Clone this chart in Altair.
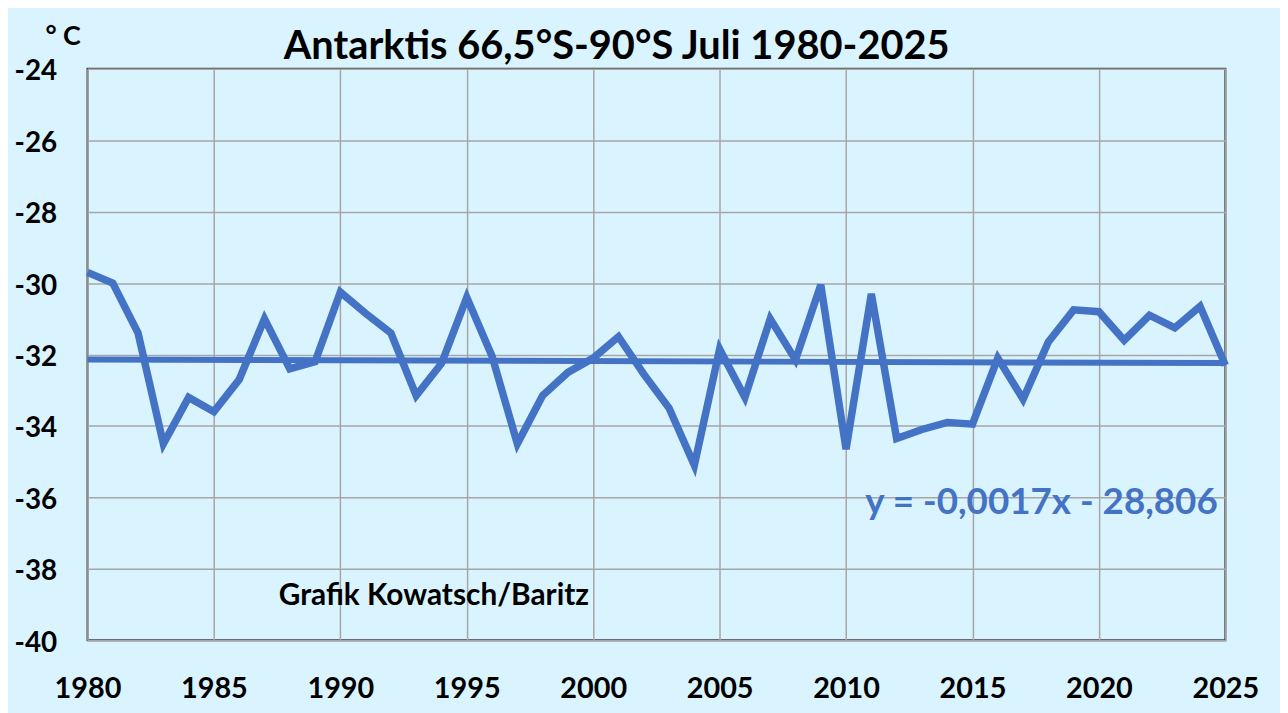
import altair as alt
import pandas as pd

years = list(range(1980, 2026))
temps = [-29.7, -30.0, -31.4, -34.5, -33.2, -33.6, -32.7, -31.0, -32.4, -32.2,
         -30.25, -30.85, -31.4, -33.15, -32.25, -30.4, -32.05, -34.5, -33.15, -32.5,
         -32.1, -31.5, -32.55, -33.5, -35.1, -31.85, -33.2, -31.0, -32.15, -30.05,
         -34.65, -30.3, -34.35, -34.1, -33.9, -33.95, -32.1, -33.25, -31.65, -30.75,
         -30.8, -31.6, -30.9, -31.25, -30.65, -32.3]
x_ticks = list(range(1980, 2026, 5))
y_ticks = list(range(-40, -23, 2))

title_text = ["Antarktis 66,5°S-90°S Juli 1980-2025"]
unit_text = ["° C"]
trend_label = ["y = -0,0017x - 28,806"]
trend_label_pos = [(2024.7, -36.47)]
credit_label = ["Grafik Kowatsch/Baritz"]
credit_label_pos = [(1993.7, -39.0)]

BLUE = "#4472C4"
BG = "#D9F4FF"
FONT = "Lato"

df = pd.DataFrame({"year": years, "temp": temps})

x_enc = alt.X("year:Q",
              scale=alt.Scale(domain=[1980, 2025], nice=False, zero=False),
              axis=alt.Axis(values=x_ticks, format="d", title=None, tickSize=0, domain=False,
                            grid=True, gridColor="#A6A6A6", gridWidth=1.5,
                            labelFont=FONT, labelFontSize=29, labelFontWeight="bold",
                            labelColor="black", labelPadding=35, labelFlush=False,
                            labelOverlap=False, labelBound=False))
y_enc = alt.Y("temp:Q",
              scale=alt.Scale(domain=[-40, -24], nice=False, zero=False),
              axis=alt.Axis(values=y_ticks, title=None, tickSize=0, domain=False,
                            grid=True, gridColor="#A6A6A6", gridWidth=1.5,
                            labelExpr="'' + datum.value",
                            labelFont=FONT, labelFontSize=28, labelFontWeight="bold",
                            labelColor="black", labelPadding=31, labelAlign="right",
                            labelOffset=3,
                            labelFlush=False, labelOverlap=False, labelBound=False))

base = alt.Chart(df)

trend = base.transform_regression("year", "temp", method="linear", extent=[1980, 2025]).mark_line(
    color=BLUE, strokeWidth=6).encode(x=x_enc, y=y_enc)

line = base.mark_line(color=BLUE, strokeWidth=7.5, strokeJoin="miter", strokeMiterLimit=4).encode(
    x=x_enc, y=y_enc)

trend_df = pd.DataFrame({"label": trend_label,
                         "x": [p[0] for p in trend_label_pos],
                         "y": [p[1] for p in trend_label_pos]})
trend_text = alt.Chart(trend_df).mark_text(
    font=FONT, fontSize=37, fontWeight="bold", color=BLUE, align="right", baseline="alphabetic"
).encode(x=alt.X("x:Q"), y=alt.Y("y:Q"), text="label:N")

credit_df = pd.DataFrame({"label": credit_label,
                          "x": [p[0] for p in credit_label_pos],
                          "y": [p[1] for p in credit_label_pos]})
credit_text = alt.Chart(credit_df).mark_text(
    font=FONT, fontSize=30, fontWeight="bold", color="black", align="center", baseline="alphabetic"
).encode(x=alt.X("x:Q"), y=alt.Y("y:Q"), text="label:N")

unit = alt.Chart(pd.DataFrame({"label": unit_text})).mark_text(
    font=FONT, fontSize=27, fontWeight="bold", color="black", align="center", baseline="middle"
).encode(x=alt.value(-24.5), y=alt.value(-32), text="label:N")

title = alt.Chart(pd.DataFrame({"label": title_text})).mark_text(
    font=FONT, fontSize=40, fontWeight="bold", color="black", align="center", baseline="alphabetic"
).encode(x=alt.value(532.5), y=alt.value(-10), text="label:N")

chart = alt.layer(trend, line, trend_text, credit_text, unit, title).properties(
    width=1145, height=575,
    autosize=alt.AutoSizeParams(type="none"),
    padding={"left": 80, "top": 59, "right": 55, "bottom": 71},
    background=BG,
).configure_view(stroke="#404040", strokeWidth=2, fill=BG)

chart.save("out.html", embed_options={"renderer": "svg", "actions": False})
